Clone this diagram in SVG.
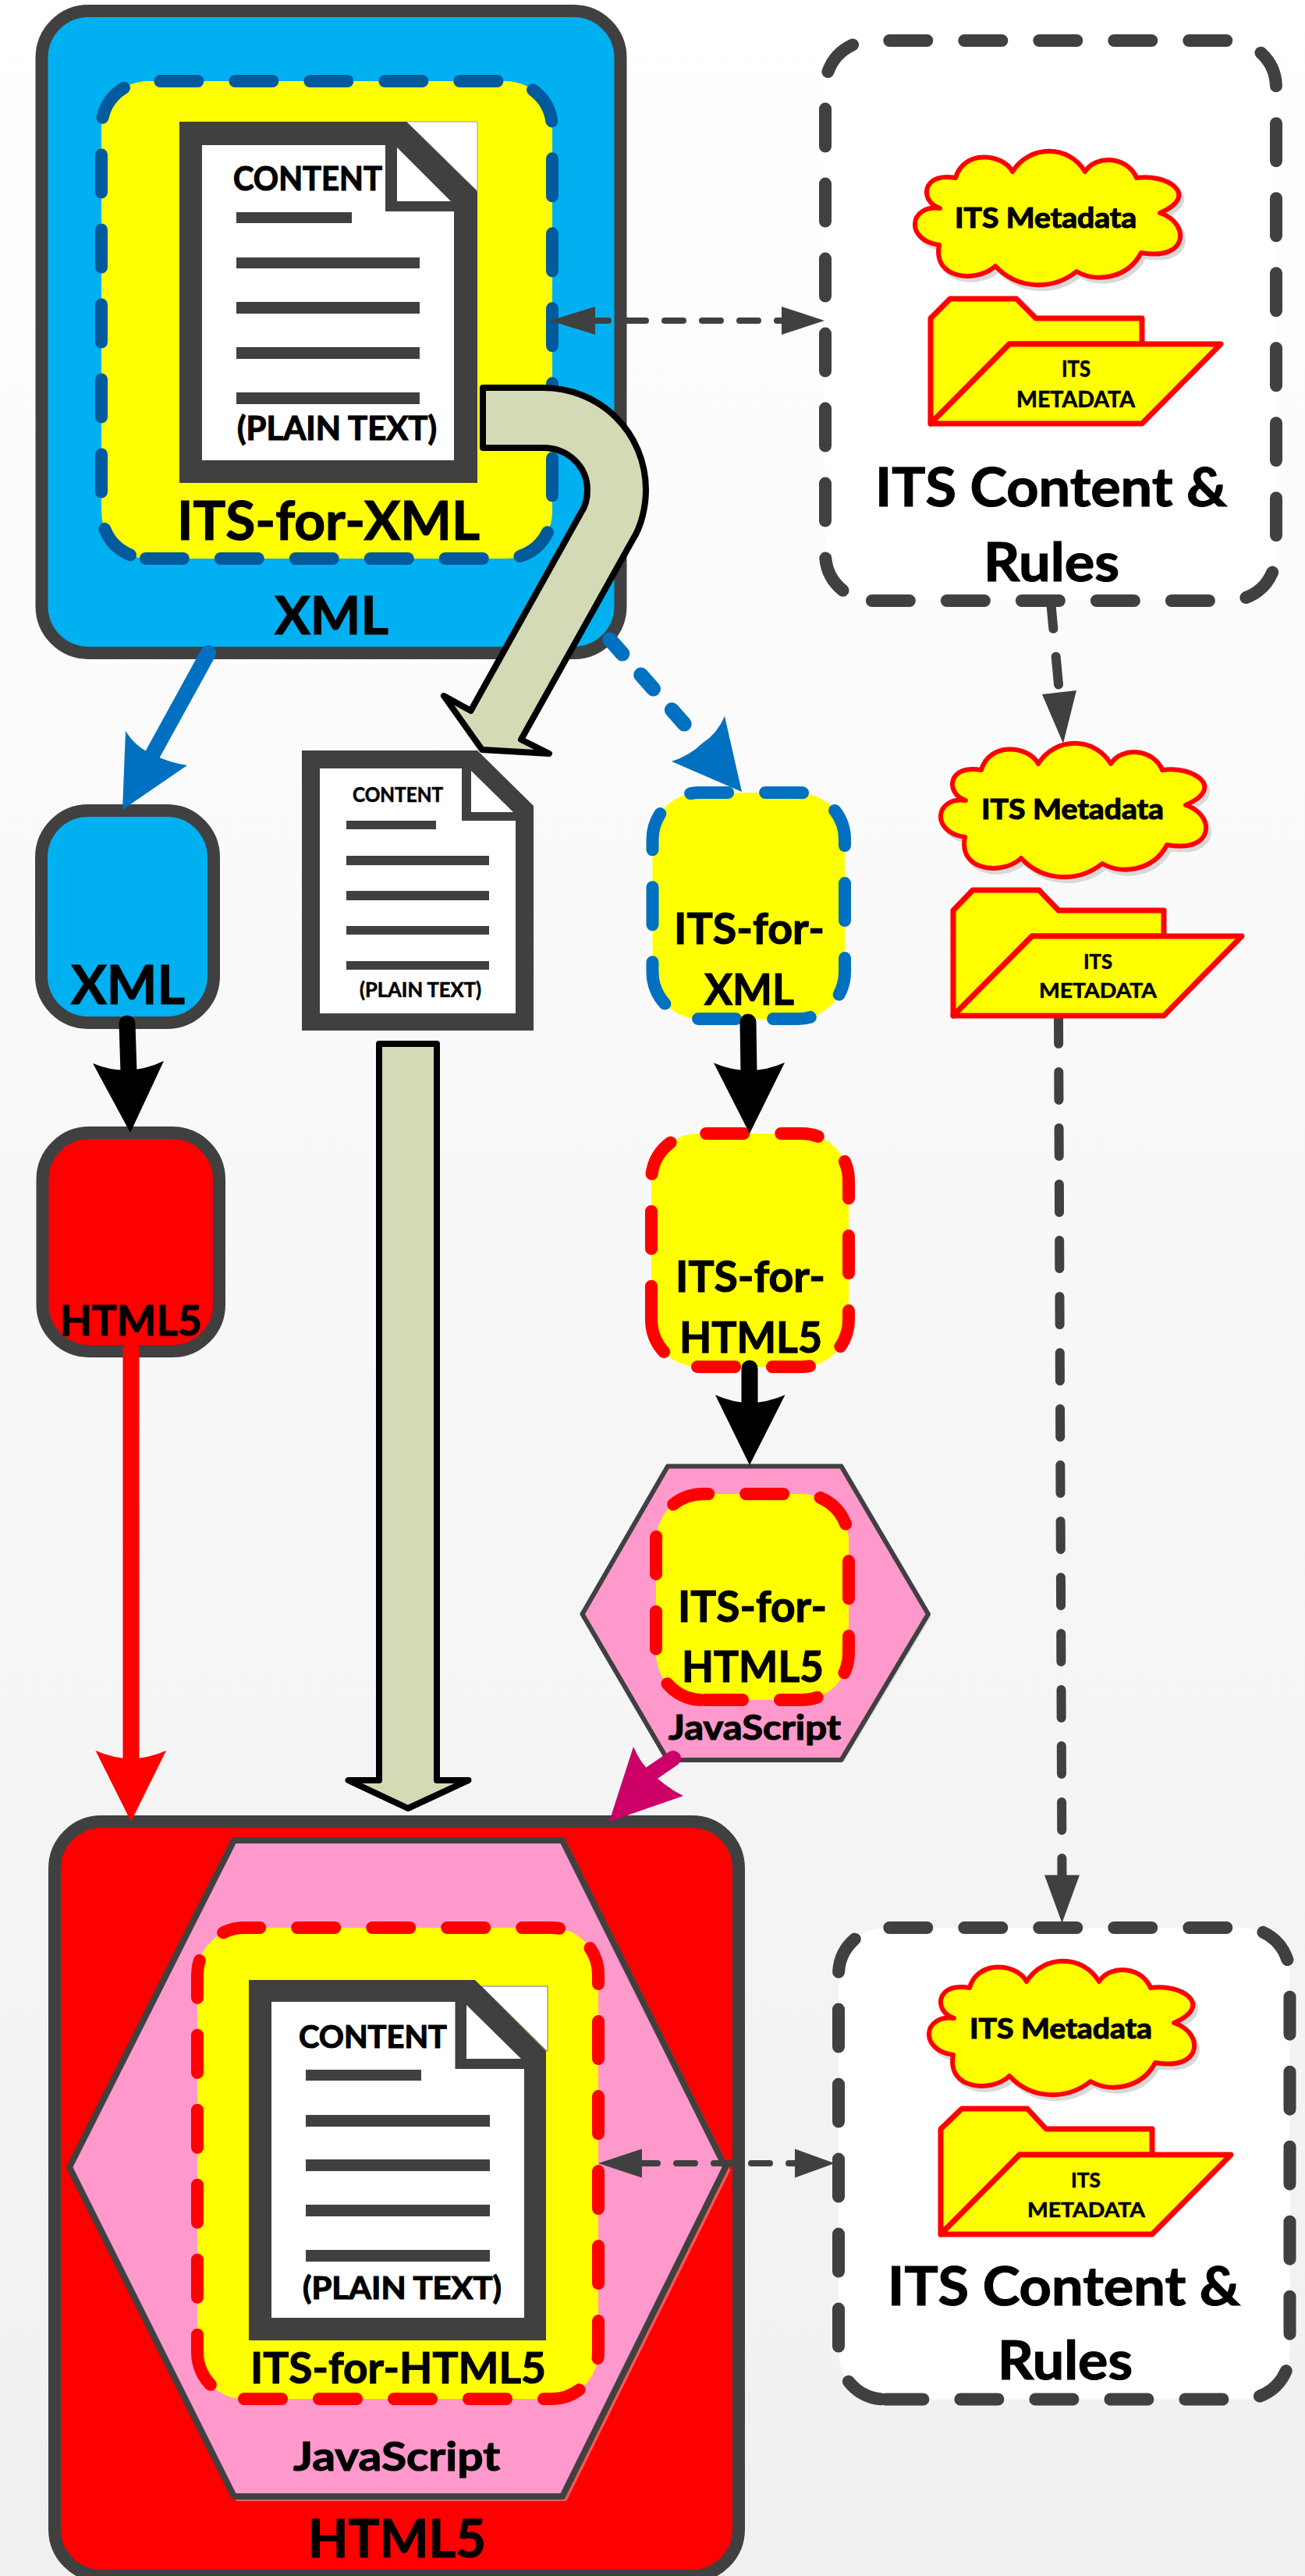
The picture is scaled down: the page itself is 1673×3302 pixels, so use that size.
<svg xmlns="http://www.w3.org/2000/svg" xmlns:xlink="http://www.w3.org/1999/xlink" width="1673" height="3302" viewBox="0 0 1673 3302">
<style>
text{font-family:"Lato","Carlito","Liberation Sans",sans-serif;font-weight:700;fill:#000;stroke:#000;stroke-width:1.2}
text.s{stroke-width:.6}
.box{stroke:#404040;stroke-width:16}
.dash{stroke-width:16;stroke-linecap:round;stroke-dasharray:48 48;fill:#ff0}
.dk{fill:#fff;stroke:#404040}
.rd{stroke:#f00}
.bl{stroke:#005a9c}
.fold{fill:#ff0;stroke:#f00;stroke-width:7;stroke-linejoin:round}
.cl{fill:#ff0;stroke:#f00;stroke-width:6;stroke-linejoin:round}
.clsh{fill:#d9d9d9;stroke:#d9d9d9;stroke-width:6}
.doc{fill:#404040}
.hex{fill:#f9c;stroke:#404040;stroke-linejoin:round}
.big{fill:#d3dab5;stroke:#000;stroke-width:8;stroke-linejoin:round}
.dl{fill:none;stroke:#404040;stroke-linecap:round}
</style>
<defs>
<linearGradient id="bg" x1="0" y1="0" x2="0" y2="1"><stop offset="0" stop-color="#fff"/><stop offset="1" stop-color="#f0f0f0"/></linearGradient>
<path id="cloud" d="M1205,267C1178,258 1182,220 1225,228C1235,192 1285,196 1298,220C1320,185 1370,185 1391,220C1405,198 1445,200 1457,228C1495,222 1540,250 1487,273C1525,285 1525,335 1463,324C1445,358 1405,362 1380,348C1350,372 1305,372 1276,341C1255,362 1195,360 1204,314C1160,308 1165,262 1205,267Z"/>
</defs>
<rect width="1673" height="3302" fill="url(#bg)"/>

<g id="node-xml-source">
<rect class="box" x="53.5" y="14" width="742" height="823" rx="60" fill="#00b0f0"/>
<text x="352" y="813" font-size="66" textLength="146" lengthAdjust="spacingAndGlyphs">XML</text>
</g>
<g id="node-its-xml-source">
<path class="dash bl" d="M167,711.4A60,60 0 0 1 130,656V164A60,60 0 0 1 190,104H648A60,60 0 0 1 708,164V656A60,60 0 0 1 648,716H190A60,60 0 0 1 167,711.4"/>
<text x="227" y="692" font-size="68" textLength="388" lengthAdjust="spacingAndGlyphs">ITS-for-XML</text>
</g>
<g id="node-doc-source">
<path d="M521,156H612V245Z" fill="#fff" stroke="#999" stroke-width="1"/>
<path class="doc" d="M230,156H521L612,245.500V619H230Z"/>
<path fill="#fff" d="M259,186H494V271H582V590H259Z"/>
<path fill="#fff" d="M509,189V258H578Z"/>
<g class="doc"><rect x="303" y="272" width="148" height="14"/><rect x="303" y="330" width="235" height="14"/><rect x="303" y="387" width="235" height="15"/><rect x="303" y="445" width="235" height="15"/><rect x="303" y="503" width="235" height="15"/></g>
<text x="299" y="244" font-size="42" textLength="191" lengthAdjust="spacingAndGlyphs">CONTENT</text>
<text x="304" y="564" font-size="42" textLength="256" lengthAdjust="spacingAndGlyphs">(PLAIN TEXT)</text>
</g>

<g id="node-its-rules-source">
<path class="dash dk" d="M1080.500,756.800A60,60 0 0 1 1058,710V112A60,60 0 0 1 1118,52H1576A60,60 0 0 1 1636,112V710A60,60 0 0 1 1576,770H1118A60,60 0 0 1 1080.500,756.800"/>
<use xlink:href="#cloud" href="#cloud" class="clsh" transform="translate(4,5)"/>
<use xlink:href="#cloud" href="#cloud" class="cl"/>
<text x="1224" y="292" font-size="36" textLength="233" lengthAdjust="spacingAndGlyphs">ITS Metadata</text>
<path class="fold" d="M1193,543V408L1218,383H1303L1328,408H1464V441H1294L1193,543Z"/>
<path class="fold" d="M1193,543L1294,441H1565L1464,543Z"/>
<text class="s" x="1361" y="483" font-size="29" textLength="37" lengthAdjust="spacingAndGlyphs">ITS</text>
<text class="s" x="1303" y="522" font-size="29" textLength="152" lengthAdjust="spacingAndGlyphs">METADATA</text>
<text x="1122" y="649" font-size="68" textLength="451" lengthAdjust="spacingAndGlyphs">ITS Content &amp;</text>
<text x="1261" y="745" font-size="68" textLength="174" lengthAdjust="spacingAndGlyphs">Rules</text>
</g>

<g id="node-xml-small">
<rect class="box" x="53" y="1039" width="221" height="272" rx="60" fill="#00b0f0"/>
<text x="91" y="1287" font-size="69" textLength="146" lengthAdjust="spacingAndGlyphs">XML</text>
</g>
<g id="node-html5-small">
<rect class="box" x="54.500" y="1452" width="226.500" height="280" rx="60" fill="#f00"/>
<text x="77" y="1712" font-size="54" textLength="182" lengthAdjust="spacingAndGlyphs">HTML5</text>
</g>
<g id="node-doc-middle">
<path class="doc" d="M387,962H612L684,1033V1321H387Z"/>
<path fill="#fff" d="M410,985H592V1052H661V1299H410Z"/>
<path fill="#fff" d="M604,988V1041H658Z"/>
<g class="doc"><rect x="444" y="1052" width="115" height="11"/><rect x="444" y="1097" width="183" height="12"/><rect x="444" y="1142" width="183" height="12"/><rect x="444" y="1187" width="183" height="11"/><rect x="444" y="1232" width="183" height="11"/></g>
<text class="s" x="452" y="1028" font-size="26" textLength="116" lengthAdjust="spacingAndGlyphs">CONTENT</text>
<text class="s" x="461" y="1278" font-size="26" textLength="156" lengthAdjust="spacingAndGlyphs">(PLAIN TEXT)</text>
</g>
<g id="node-its-xml-small">
<path class="dash" stroke="#0070c0" d="M846.600,1279.300A60,60 0 0 1 836.500,1246V1076A60,60 0 0 1 896.500,1016H1023A60,60 0 0 1 1083,1076V1246A60,60 0 0 1 1023,1306H896.500A60,60 0 0 1 846.600,1279.300"/>
<text x="864" y="1210" font-size="56" textLength="193" lengthAdjust="spacingAndGlyphs">ITS-for-</text>
<text x="903" y="1288" font-size="56" textLength="115" lengthAdjust="spacingAndGlyphs">XML</text>
</g>
<g id="node-its-html5-small">
<path class="dash rd" d="M835.200,1696.700A60,60 0 0 1 835,1692V1513A60,60 0 0 1 895,1453H1028A60,60 0 0 1 1088,1513V1692A60,60 0 0 1 1028,1752H895A60,60 0 0 1 835.200,1696.700"/>
<text x="866" y="1656" font-size="56" textLength="192" lengthAdjust="spacingAndGlyphs">ITS-for-</text>
<text x="871" y="1734" font-size="56" textLength="183" lengthAdjust="spacingAndGlyphs">HTML5</text>
</g>
<g id="node-js-small">
<polygon points="860,1883 1082,1883 1194,2072 1082,2259 860,2259 750,2072" fill="#e0e0e0"/>
<polygon class="hex" stroke-width="6" points="856,1879.500 1078.500,1879.500 1190,2069 1078.500,2256 856,2256 746.500,2069"/>
<path class="dash rd" d="M897.500,2179A60,60 0 0 1 841,2119V1975A60,60 0 0 1 901,1915H1028A60,60 0 0 1 1088,1975V2119A60,60 0 0 1 1028,2179H897.500"/>
<text x="869" y="2079" font-size="56" textLength="191" lengthAdjust="spacingAndGlyphs">ITS-for-</text>
<text x="874" y="2156" font-size="56" textLength="182" lengthAdjust="spacingAndGlyphs">HTML5</text>
<text x="857" y="2230" font-size="44" textLength="221" lengthAdjust="spacingAndGlyphs">JavaScript</text>
</g>

<g id="node-html5-target">
<rect class="box" x="70" y="2335" width="877" height="967" rx="60" fill="#f00"/>
<text x="395" y="3278" font-size="66" textLength="228" lengthAdjust="spacingAndGlyphs">HTML5</text>
</g>
<g id="node-js-target">
<polygon points="304,2363 725,2363 934,2782 725,3204 304,3204 93,2782" fill="#f05a5a" stroke="#f05a5a" stroke-width="4"/>
<polygon class="hex" stroke-width="8" points="300,2359 721,2359 930,2778 721,3200 300,3200 89,2778"/>
<text x="376" y="3167" font-size="52" textLength="265" lengthAdjust="spacingAndGlyphs">JavaScript</text>
</g>
<g id="node-its-html5-target">
<path class="dash rd" d="M258.400,3040A60,60 0 0 1 253,3015V2531A60,60 0 0 1 313,2471H707A60,60 0 0 1 767,2531V3015A60,60 0 0 1 707,3075H313A60,60 0 0 1 258.400,3040"/>
<text x="321" y="3055" font-size="56" textLength="379" lengthAdjust="spacingAndGlyphs">ITS-for-HTML5</text>
</g>
<g id="node-doc-target">
<path d="M617,2546H702V2630Z" fill="#fff" stroke="#777" stroke-width="1"/>
<path class="doc" d="M319,2538H609L700,2629V3000H319Z"/>
<path fill="#fff" d="M348,2566H583.500V2652H672V2971H348Z"/>
<path fill="#fff" d="M598,2570V2639H668Z"/>
<g class="doc"><rect x="392" y="2653" width="148" height="14"/><rect x="392" y="2711" width="236" height="15"/><rect x="392" y="2768" width="236" height="15"/><rect x="392" y="2826" width="236" height="15"/><rect x="392" y="2884" width="236" height="15"/></g>
<text x="383" y="2625" font-size="41" textLength="190" lengthAdjust="spacingAndGlyphs">CONTENT</text>
<text x="388" y="2947" font-size="41" textLength="255" lengthAdjust="spacingAndGlyphs">(PLAIN TEXT)</text>
</g>
<g id="node-its-rules-target">
<path class="dash dk" d="M1129,3075.200A60,60 0 0 1 1075,3015.500V2531A60,60 0 0 1 1135,2471H1593.500A60,60 0 0 1 1653.500,2531V3015.500A60,60 0 0 1 1593.500,3075.500H1129"/>
<use xlink:href="#cloud" href="#cloud" class="clsh" transform="translate(22,2325)"/>
<use xlink:href="#cloud" href="#cloud" class="cl" transform="translate(18,2320)"/>
<text x="1243" y="2613" font-size="36" textLength="234" lengthAdjust="spacingAndGlyphs">ITS Metadata</text>
<path class="fold" d="M1206,2864V2729L1233,2703H1317L1341,2729H1477V2762H1307L1206,2864Z"/>
<path class="fold" d="M1206,2864L1307,2762H1578L1477,2864Z"/>
<text class="s" x="1373" y="2804" font-size="27" textLength="38" lengthAdjust="spacingAndGlyphs">ITS</text>
<text class="s" x="1317" y="2842" font-size="27" textLength="151" lengthAdjust="spacingAndGlyphs">METADATA</text>
<text x="1138" y="2955" font-size="68" textLength="452" lengthAdjust="spacingAndGlyphs">ITS Content &amp;</text>
<text x="1279" y="3050" font-size="68" textLength="173" lengthAdjust="spacingAndGlyphs">Rules</text>
</g>

<g id="connectors">
<path class="big" d="M619,497H696C770,497 828,555 828,628C828,650 822,675 811,692L668,948L704,966L618,961L569,892L603.500,911L745,657C750,650 753,640 753,628C753,598 728,574 696,574H619Z"/>
<path class="big" d="M486,1338H560V2282H600.500L523,2318L446.500,2282H486Z"/>

<line x1="267" y1="837" x2="195" y2="968" stroke="#0070c0" stroke-width="20" stroke-linecap="round"/>
<path fill="#0070c0" d="M157,1038L161,937Q174,958 196,967Q215,977 240,981Z"/>
<line x1="782" y1="820" x2="901" y2="955" stroke="#0070c0" stroke-width="19" stroke-linecap="round" stroke-dasharray="24 36"/>
<path fill="#0070c0" d="M951,1015L929,918Q920,940 900,953Q885,968 861,976Z"/>

<line x1="163" y1="1312" x2="165" y2="1375" stroke="#000" stroke-width="21" stroke-linecap="round"/>
<path d="M167,1452L119,1363Q164,1382 210,1360Z"/>
<line x1="959" y1="1310" x2="960" y2="1375" stroke="#000" stroke-width="21" stroke-linecap="round"/>
<path d="M961,1453L915,1362.500Q961,1382 1006,1362Z"/>
<line x1="961" y1="1754" x2="961" y2="1800" stroke="#000" stroke-width="21" stroke-linecap="round"/>
<path d="M961,1878L917,1788Q961,1808 1006.500,1788Z"/>

<line x1="168" y1="1730" x2="168" y2="2260" stroke="#f00" stroke-width="21" stroke-linecap="round"/>
<path fill="#f00" d="M168,2335L122.500,2244Q168,2264 213,2244Z"/>

<line x1="863" y1="2254" x2="825" y2="2280" stroke="#c06" stroke-width="20" stroke-linecap="round"/>
<path fill="#c06" d="M781,2335L812,2239Q822,2262 835,2272Q852,2290 876,2302Z"/>

<line class="dl" x1="756" y1="411" x2="1002" y2="411" stroke-width="8" stroke-dasharray="24 24"/>
<polygon fill="#404040" points="705,411 763,393 763,429"/>
<polygon fill="#404040" points="1057,411 1002,393 1002,429"/>

<line class="dl" x1="1347" y1="770" x2="1358" y2="888" stroke-width="12" stroke-dasharray="36 36"/>
<polygon fill="#404040" points="1363,953 1336,890 1380,885"/>

<line class="dl" x1="1357" y1="1302" x2="1361.500" y2="2410" stroke-width="12" stroke-dasharray="36 36"/>
<polygon fill="#404040" points="1361.500,2465 1339,2403.500 1384,2403.500"/>

<line class="dl" x1="819" y1="2773" x2="1021" y2="2773" stroke-width="8" stroke-dasharray="24 24"/>
<polygon fill="#404040" points="767,2773 823,2754.500 823,2791.500"/>
<polygon fill="#404040" points="1070,2773 1019,2754.500 1019,2791.500"/>
</g>

<g id="node-its-metadata-middle">
<use xlink:href="#cloud" href="#cloud" class="clsh" transform="translate(37,764)"/>
<use xlink:href="#cloud" href="#cloud" class="cl" transform="translate(33,759)"/>
<text x="1258" y="1050" font-size="36" textLength="234" lengthAdjust="spacingAndGlyphs">ITS Metadata</text>
<path class="fold" d="M1222,1302V1167L1247,1141H1332L1357,1167H1492V1200H1323L1222,1302Z"/>
<path class="fold" d="M1222,1302L1323,1200H1592L1492,1302Z"/>
<text class="s" x="1389" y="1242" font-size="27" textLength="37" lengthAdjust="spacingAndGlyphs">ITS</text>
<text class="s" x="1332" y="1279" font-size="27" textLength="151" lengthAdjust="spacingAndGlyphs">METADATA</text>
</g>
</svg>
